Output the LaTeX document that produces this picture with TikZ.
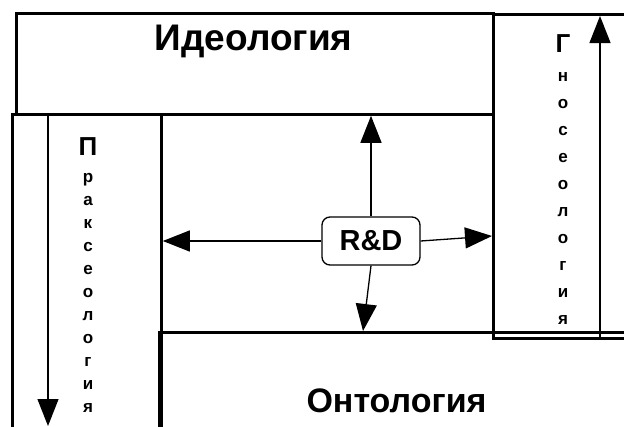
\documentclass[tikz,border=0pt]{standalone}
\usepackage{fontspec}
\setmainfont{Liberation Sans}
\usetikzlibrary{arrows.meta}
\tikzset{
  area/.style={draw, line width=2.8pt, rectangle, anchor=north west, inner sep=0pt},
  flow/.style={-{Triangle[length=27pt, width=21pt]}, line width=1.3pt},
  title/.style={font=\bfseries\fontsize{37}{39}\selectfont, anchor=base, inner sep=0pt},
  bigch/.style={font=\bfseries\fontsize{26}{28}\selectfont, anchor=base, inner sep=0pt},
  smallch/.style={font=\bfseries\fontsize{17}{19}\selectfont, anchor=base, inner sep=0pt},
  hub/.style={draw, line width=1.3pt, rounded corners=8pt, minimum width=98pt, minimum height=48pt,
    font=\bfseries\fontsize{29}{31}\selectfont}
}
\begin{document}
\begin{tikzpicture}[x=1pt, y=-1pt]
        \coordinate (SW) at (0, 426);
        \coordinate (NE) at (624, 0);
        \useasboundingbox (SW) rectangle (NE);
        \clip (SW) rectangle (NE);
        % the four fields
        \node[area, minimum width=477pt, minimum height=101pt] (ideo) at (15, 12) {};
        \node[area, minimum width=160pt, minimum height=324pt] (gnos) at (492, 13) {};
        \node[area, minimum width=149pt, minimum height=340pt] (prax) at (11, 113) {};
        \node[area, minimum width=500pt, minimum height=150pt] (onto) at (158, 331) {};
        % names
        \node[title] (ideotext) at (253.5, 50) {Идеология};
        \node[title, font=\bfseries\fontsize{34}{36}\selectfont] (ontotext) at (396.5, 412) {Онтология};
        \node[bigch] (gnosG) at (563, 52) {Г};
        \foreach \ch [count=\i] in {н,о,с,е,о,л,о,г,и,я}
            \node[smallch] (gnos\i) at (563, {81.5+27*(\i-1)}) {\ch};
        \node[bigch] (praxP) at (88, 155) {П};
        \foreach \ch [count=\i] in {р,а,к,с,е,о,л,о,г,и,я}
            \node[smallch] (prax\i) at (88, {182+23*(\i-1)}) {\ch};
        % centre
        \node[hub] (rd) at (371, 241) {R\&D};
        \draw[flow] (rd.north) -- (rd.north |- ideo.south);
        \draw[flow] (rd.west) -- (rd.west -| prax.east);
        \draw[flow] (rd.east) -- ([yshift=5pt]rd.east -| gnos.west);
        \draw[flow] (rd.south) -- ([xshift=-8pt]rd.south |- onto.north);
        % the column arrows
        \coordinate (gnosfoot) at ([xshift=108pt]gnos.south west);
        \coordinate (praxtop) at ([xshift=37pt]prax.north west);
        \draw[flow, shorten >=3pt] (gnosfoot) -- (gnosfoot |- gnos.north);
        \draw[flow] (praxtop) -- (praxtop |- SW);
\end{tikzpicture}
\end{document}
